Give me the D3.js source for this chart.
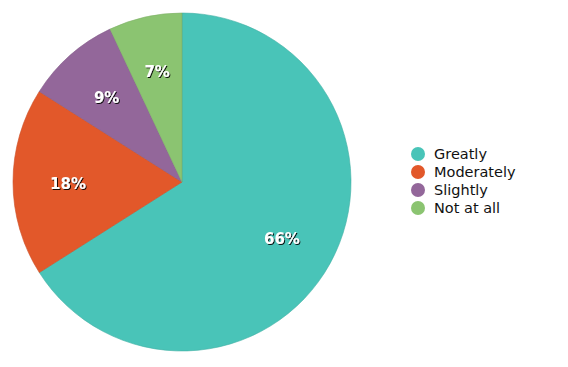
<!DOCTYPE html>
<html><head><meta charset="utf-8">
<script src="https://cdn.jsdelivr.net/npm/d3@7"></script>
<style>body{margin:0;background:#fff}svg{display:block}</style>
</head><body><svg id="c" width="568" height="367"></svg>
<script>
const categories = ["Greatly", "Moderately", "Slightly", "Not at all"];
const values = [66, 18, 9, 7];
const colors = ["#49c4b8", "#e2582a", "#93679a", "#8bc471"];

const svg = d3.select("#c");
const defs = svg.append("defs");
const f = defs.append("filter").attr("id","sh").attr("x","-20%").attr("y","-20%").attr("width","140%").attr("height","140%");
f.append("feDropShadow").attr("dx",1).attr("dy",1).attr("stdDeviation",0.7).attr("flood-color","#000").attr("flood-opacity",0.9);

const cx = 182, cy = 182, R = 169;
const data = categories.map((c,i)=>({cat:c, value:values[i], color:colors[i]}));
const pie = d3.pie().value(d=>d.value).sort(null);
const arcs = pie(data);
const arc = d3.arc().innerRadius(0).outerRadius(R);
const labelArc = d3.arc().innerRadius(114).outerRadius(114);
const g = svg.append("g").attr("transform",`translate(${cx},${cy})`);
g.selectAll("path").data(arcs).join("path")
  .attr("d",arc).attr("fill",d=>d.data.color)
  .attr("stroke",d=>d3.color(d.data.color).darker(0.3)).attr("stroke-width",0.6);
g.selectAll("text").data(arcs).join("text")
  .attr("transform",d=>`translate(${labelArc.centroid(d)})`)
  .attr("text-anchor","middle").attr("dy","0.45em")
  .attr("font-family","Verdana, 'DejaVu Sans', sans-serif").attr("font-weight","bold").attr("font-size",15)
  .attr("fill","#fff").attr("filter","url(#sh)")
  .text(d=>d.data.value+"%");

const lg = svg.append("g").attr("transform","translate(418,154)");
const rows = lg.selectAll("g").data(data).join("g").attr("transform",(d,i)=>`translate(0,${i*18})`);
rows.append("circle").attr("r",7).attr("fill",d=>d.color);
rows.append("text").attr("x",16).attr("dy","0.36em")
  .attr("font-family","Verdana, 'DejaVu Sans', sans-serif").attr("font-size",14.5).attr("fill","#111")
  .text(d=>d.cat);
</script></body></html>
